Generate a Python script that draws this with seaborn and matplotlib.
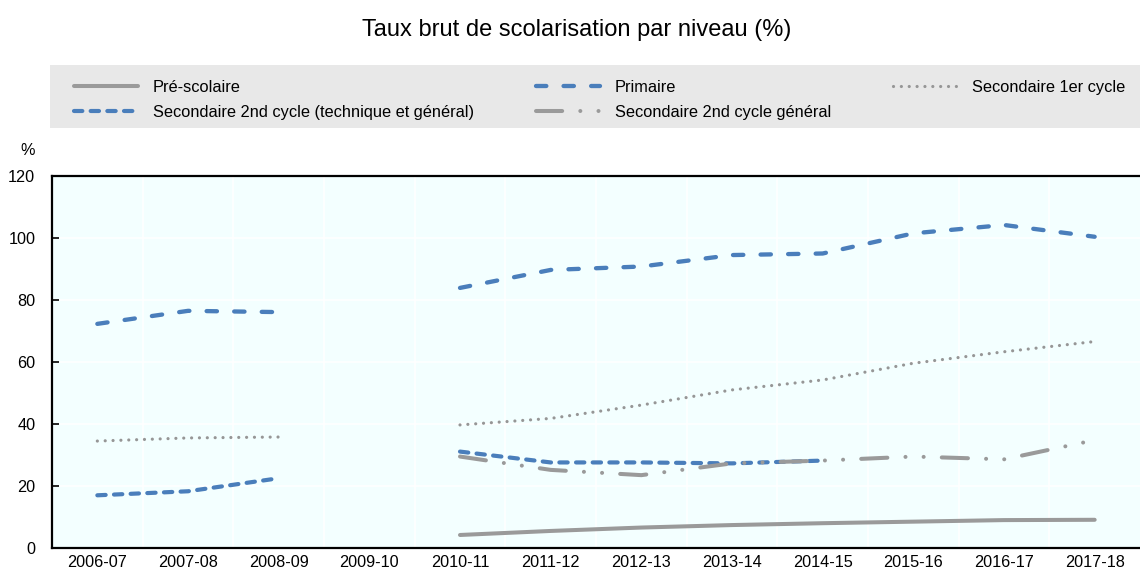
import numpy as np
import matplotlib
matplotlib.use("Agg")
import matplotlib.pyplot as plt
from matplotlib.patches import Rectangle
from matplotlib.ticker import FixedLocator
import seaborn as sns

years = ["2006-07", "2007-08", "2008-09", "2009-10", "2010-11", "2011-12",
         "2012-13", "2013-14", "2014-15", "2015-16", "2016-17", "2017-18"]

nan = np.nan
prescolaire = [nan, nan, nan, nan, 4.2, 5.5, 6.6, 7.4, 8.0, 8.5, 9.0, 9.1]
primaire = [72.3, 76.5, 76.1, nan, 83.9, 89.7, 90.8, 94.5, 95.0, 101.5, 104.2, 100.4]
sec_1er = [34.5, 35.5, 35.8, nan, 39.7, 41.8, 46.1, 51.0, 54.2, 59.6, 63.3, 66.6]
sec_2nd_tg = [17.0, 18.3, 22.5, nan, 31.1, 27.6, 27.6, 27.3, 28.2, nan, nan, nan]
sec_2nd_gen = [nan, nan, nan, nan, 29.5, 25.2, 23.5, 27.3, 28.2, 29.5, 28.6, 34.8]

labels = ["Pré-scolaire", "Primaire", "Secondaire 1er cycle",
          "Secondaire 2nd cycle (technique et général)",
          "Secondaire 2nd cycle général"]

blue = "#4A7EBB"
grey = "#9A9A9A"

sns.set_style("white")
plt.rcParams["font.family"] = ["Liberation Sans", "DejaVu Sans"]
plt.rcParams["text.color"] = "black"
plt.rcParams["xtick.color"] = "black"
plt.rcParams["ytick.color"] = "black"
plt.rcParams["axes.labelcolor"] = "black"

styles = {
    "Pré-scolaire": dict(color=grey, lw=2.9, linestyle="-"),
    "Primaire": dict(color=blue, lw=3.1, linestyle=(0, (2.4, 4.0)),
                     dash_capstyle="round"),
    "Secondaire 1er cycle": dict(color="#969696", lw=2.3, linestyle=(0, (0.01, 2.45)),
                                 dash_capstyle="round"),
    "Secondaire 2nd cycle (technique et général)": dict(
        color=blue, lw=3.0, linestyle=(0, (2.0, 2.0)), dash_capstyle="round"),
    "Secondaire 2nd cycle général": dict(
        color=grey, lw=2.9, linestyle=(0, (6.5, 4.5, 0.01, 4.5, 0.01, 4.5)),
        dash_capstyle="round"),
}

fig = plt.figure(figsize=(11.4, 5.72), dpi=100)
ax = fig.add_axes([52 / 1140, 1 - 548 / 572, 1088 / 1140, 372 / 572])
ax.set_facecolor("#F3FFFF")

x = np.arange(len(years))
handles = {}
for name, vals in zip(labels, [prescolaire, primaire, sec_1er, sec_2nd_tg, sec_2nd_gen]):
    vals = np.array(vals, dtype=float)
    ok = ~np.isnan(vals)
    # split into contiguous pieces so the gap year stays empty
    breaks = np.where(np.diff(ok.astype(int)) != 0)[0] + 1
    for seg_x, seg_y in zip(np.split(x, breaks), np.split(vals, breaks)):
        if np.isnan(seg_y).all():
            continue
        sns.lineplot(x=seg_x, y=seg_y, ax=ax, **styles[name])
    handles[name] = ax.lines[-1]

ax.set_xlim(-0.5, 11.5)
ax.set_ylim(0, 120)
ax.set_yticks(range(0, 121, 20))
ax.set_xticks(x)
ax.set_xticklabels(years)
ax.xaxis.set_minor_locator(FixedLocator(np.arange(0.5, 11, 1)))
ax.tick_params(axis="x", which="major", length=0, labelsize=11.7, pad=5)
ax.tick_params(axis="x", which="minor", length=6, width=1.2, direction="in",
               color="black")
ax.tick_params(axis="y", length=5, width=1.2, direction="in", labelsize=11.7,
               pad=12, left=True)
ax.grid(True, axis="y", which="major", color="white", lw=1.2)
ax.grid(True, axis="x", which="minor", color="white", lw=1.2)
ax.set_axisbelow(True)
for side in ["left", "bottom", "top"]:
    ax.spines[side].set_visible(True)
    ax.spines[side].set_color("black")
    ax.spines[side].set_linewidth(1.6)
ax.spines["right"].set_visible(False)
ax.set_xlabel("")
ax.set_ylabel("")

fig.text(28 / 1140, 1 - 150 / 572, "%", ha="center", va="center", fontsize=11.7)
fig.text(577 / 1140, 1 - 30 / 572, "Taux brut de scolarisation par niveau (%)",
         ha="center", va="center", fontsize=17)

fig.patches.append(Rectangle((50 / 1140, 1 - 128 / 572), 1090 / 1140, 63 / 572,
                             transform=fig.transFigure, facecolor="#E8E8E8",
                             edgecolor="none", zorder=0))
order = [labels[0], labels[3], labels[1], labels[4], labels[2]]
fig.legend([handles[n] for n in order], order, ncol=3, frameon=False,
           loc="upper left", bbox_to_anchor=(74 / 1140, 1 - 80 / 572),
           fontsize=11.8, handlelength=3.9, handletextpad=0.9,
           columnspacing=3.8, labelspacing=0.6, borderpad=0, borderaxespad=0)

fig.savefig("out.png", dpi=100)
